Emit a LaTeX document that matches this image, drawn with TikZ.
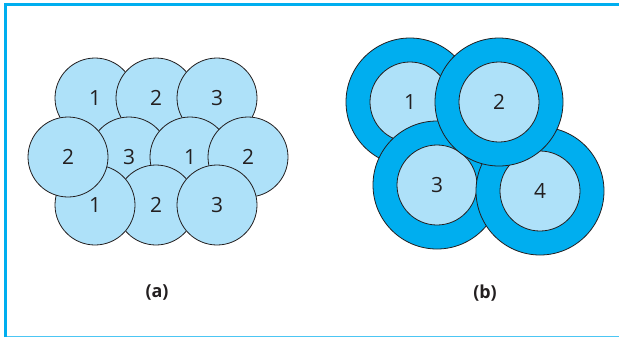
\documentclass[tikz,border=0pt]{standalone}
\usepackage{fontspec}
\setmainfont{Open Sans}
\definecolor{cellblue}{HTML}{AEE1F9}
\definecolor{ringblue}{HTML}{00AEEF}
\definecolor{inkgray}{HTML}{231F20}

\begin{document}
\begin{tikzpicture}[x=1bp, y=-1bp, line width=0.8bp,
	cell/.style={circle, draw=inkgray, fill=cellblue, text=inkgray, minimum size=80bp, inner sep=0pt, font=\fontsize{21}{21}\selectfont},
	ring/.style={circle, draw=inkgray, fill=ringblue, minimum size=128bp, inner sep=0pt},
	caption/.style={text=inkgray, font=\fontsize{18}{18}\selectfont\bfseries}]
		\useasboundingbox (0,0) rectangle (619,337);

		% frame
		\draw[ringblue, line width=3bp] (5.5,337) -- (5.5,4.5) -- (619,4.5);
		\draw[ringblue!70, line width=1bp] (7,336) -- (619,336);

		% (a) cells, drawn back to front
		\node[cell] (top1) at (95,98)  {1};
		\node[cell] (top2) at (156,98) {2};
		\node[cell] (top3) at (217,98) {3};
		\node[cell] (mid3) at (129,157) {3};
		\node[cell] (mid1) at (190,157) {1};
		\node[cell] (right2) at (248,157) {2};
		\node[cell] (bot2) at (156,205) {2};
		\node[cell] (bot1) at (95,205)  {1};
		\node[cell] (bot3) at (217,205) {3};
		\node[cell] (left2) at (68,157) {2};
		\node[caption] (capA) at (157,293) {(a)};

		% (b) cells with their rings
		\node[ring] (ring1) at (410,102) {};
		\node[cell] (cell1) at (ring1) {1};
		\node[ring] (ring3) at (437,185) {};
		\node[cell] (cell3) at (ring3) {3};
		\node[ring] (ring4) at (540,191) {};
		\node[cell] (cell4) at (ring4) {4};
		\node[ring] (ring2) at (499,102) {};
		\node[cell] (cell2) at (ring2) {2};
		\node[caption] (capB) at (485,293) {(b)};
	\end{tikzpicture}
\end{document}
